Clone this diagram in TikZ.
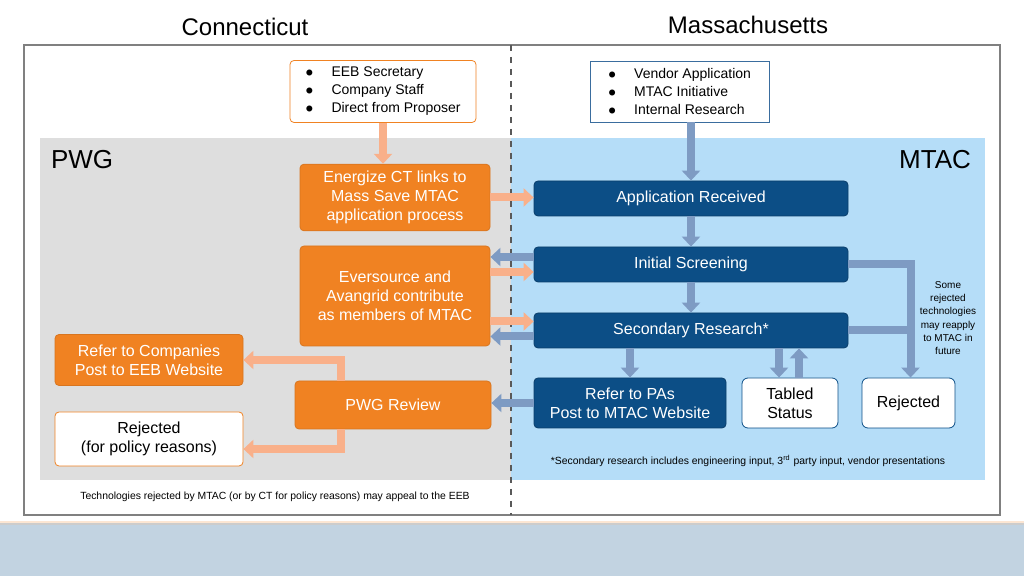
\documentclass[tikz,border=0pt]{standalone}
\usepackage{fontspec}
\setmainfont{Liberation Sans}
\usetikzlibrary{arrows.meta,positioning}
\definecolor{ctorange}{HTML}{F08222}
\definecolor{ltorange}{HTML}{F9B08A}
\definecolor{mablue}{HTML}{0C4E86}
\definecolor{arblue}{HTML}{7E9BC3}
\definecolor{ctgray}{HTML}{DEDEDE}
\definecolor{mabg}{HTML}{B5DDF8}
\tikzset{
  obox/.style={draw=ctorange!90!black, fill=ctorange, rounded corners=2pt, text=white, align=center, font=\fontsize{8}{9.6}\selectfont},
  wobox/.style={draw=ctorange, fill=white, rounded corners=2pt, align=center, font=\fontsize{8}{9.6}\selectfont},
  bbox/.style={draw=mablue!80!black, fill=mablue, rounded corners=2pt, text=white, align=center, font=\fontsize{8}{9.6}\selectfont},
  wbbox/.style={draw=mablue, fill=white, rounded corners=3pt, align=center, font=\fontsize{8}{9.6}\selectfont},
  oarrow/.style={draw=ltorange, line width=4pt, -{Triangle[width=9pt,length=5pt]}},
  barrow/.style={draw=arblue, line width=4pt, -{Triangle[width=9pt,length=5pt]}},
  oline/.style={draw=ltorange, line width=4pt},
  bline/.style={draw=arblue, line width=4pt}
}
\begin{document}
\begin{tikzpicture}[x=0.5pt,y=-0.5pt]
\useasboundingbox (0,0) rectangle (1024,576);
% background
\fill[white] (0,0) rectangle (1024,576);
\fill[black!20!white] (0,523) rectangle (1024,576);
\fill[ctorange!20!white] (0,521) rectangle (1024,523);
\fill[mablue!25!white] (0,525) rectangle (1024,576);
\draw[gray, line width=0.8pt] (24,45) rectangle (1000,515);
\fill[ctgray] (40,138) rectangle (511,480);
\fill[mabg] (511,138) rectangle (985,480);
\draw[dashed, gray!70!black, line width=0.6pt] (511,45) -- (511,515);
% titles
\node[font=\fontsize{12}{14}\selectfont] (ct) at (245,27) {Connecticut};
\node[font=\fontsize{12}{14}\selectfont] (ma) at (748,25) {Massachusetts};
\node[font=\fontsize{13}{15}\selectfont, anchor=west] (pwg) at (44,160) {PWG};
\node[font=\fontsize{13}{15}\selectfont, anchor=east] (mtac) at (978,160) {MTAC};
% sources
\node[wobox, minimum width=93pt, minimum height=30.5pt, align=left, font=\fontsize{7}{9}\selectfont] (ctsrc) at (383,91.5)
  {$\bullet$\hspace{9pt}EEB Secretary\\ $\bullet$\hspace{9pt}Company Staff\\ $\bullet$\hspace{9pt}Direct from Proposer};
\node[wbbox, rounded corners=0pt, draw=mablue!60!arblue, minimum width=89.5pt, minimum height=30.5pt, align=left, font=\fontsize{7}{9}\selectfont] (masrc) at (679.5,91.5)
  {$\bullet$\hspace{9pt}Vendor Application\\ $\bullet$\hspace{9pt}MTAC Initiative\\ $\bullet$\hspace{9pt}Internal Research};
% Connecticut side
\node[obox, minimum width=95pt, minimum height=31.5pt] (energize) at (395,197.5) {Energize CT links to\\Mass Save MTAC\\application process};
\node[obox, minimum width=95pt, minimum height=50pt] (member) at (395,296) {Eversource and\\Avangrid contribute\\as members of MTAC};
\node[obox, minimum width=94pt, minimum height=25.5pt] (refco) at (149,360) {Refer to Companies\\Post to EEB Website};
\node[obox, minimum width=98pt, minimum height=24pt] (review) at (393,405) {PWG Review};
\node[wobox, minimum width=94pt, minimum height=27pt] (policy) at (149,439) {Rejected\\(for policy reasons)};
% Massachusetts side
\node[bbox, minimum width=157pt, minimum height=17.5pt] (received) at (691,198.5) {Application Received};
\node[bbox, minimum width=157pt, minimum height=17.5pt] (screen) at (691,264.5) {Initial Screening};
\node[bbox, minimum width=157pt, minimum height=17.5pt] (research) at (691,330.5) {Secondary Research*};
\node[bbox, minimum width=96pt, minimum height=25pt] (referpa) at (630,403) {Refer to PAs\\Post to MTAC Website};
\node[wbbox, minimum width=48pt, minimum height=25pt] (tabled) at (790,403) {Tabled\\Status};
\node[wbbox, minimum width=46.5pt, minimum height=25pt] (rejected) at (908.5,403) {Rejected};
\node[align=center, font=\fontsize{5}{6.6}\selectfont] (reapply) at (948,318) {Some\\rejected\\technologies\\may reapply\\to MTAC in\\future};
% notes
\node[font=\fontsize{5.2}{6}\selectfont] (footnote) at (748,461) {*Secondary research includes engineering input, 3\textsuperscript{rd} party input, vendor presentations};
\node[font=\fontsize{5.2}{6}\selectfont] (appeal) at (275,497) {Technologies rejected by MTAC (or by CT for policy reasons) may appeal to the EEB};
% connectors
\draw[oarrow] (ctsrc.south) -- (ctsrc.south |- energize.north);
\draw[barrow] (masrc.south -| received.north) -- (received.north);
\draw[oarrow] (energize.east) -- (received.west |- energize.east);
\draw[barrow] (received) -- (screen);
\draw[barrow] (screen) -- (research);
\draw[barrow] ([yshift=3.75pt]screen.west) -- ([yshift=3.75pt]screen.west -| member.east);
\draw[oarrow] ([yshift=-3.75pt]screen.west -| member.east) -- ([yshift=-3.75pt]screen.west);
\draw[oarrow] ([yshift=4.5pt]research.west -| member.east) -- ([yshift=4.5pt]research.west);
\draw[barrow] ([yshift=-3pt]research.west) -- ([yshift=-3pt]research.west -| member.east);
\draw[barrow] (research.south -| referpa.north) -- (referpa.north);
\draw[barrow] ([xshift=-5.5pt]research.south -| tabled.north) -- ([xshift=-5.5pt]tabled.north);
\draw[barrow] ([xshift=4.5pt]tabled.north) -- ([xshift=4.5pt]tabled.north |- research.south);
\draw[bline] (screen.east) -| ([xshift=1pt]rejected.north |- research.east);
\draw[bline] (research.east) -- ([xshift=1pt]rejected.north |- research.east);
\draw[barrow] ([xshift=1pt]rejected.north |- research.east) -- ([xshift=1pt]rejected.north);
\draw[barrow] (referpa.west) -- (referpa.west -| review.east);
\draw[oarrow] ([xshift=-26pt]review.north) |- (refco.east);
\draw[oarrow] ([xshift=-26pt]review.south) |- ([yshift=-5pt]policy.east);
\end{tikzpicture}
\end{document}
